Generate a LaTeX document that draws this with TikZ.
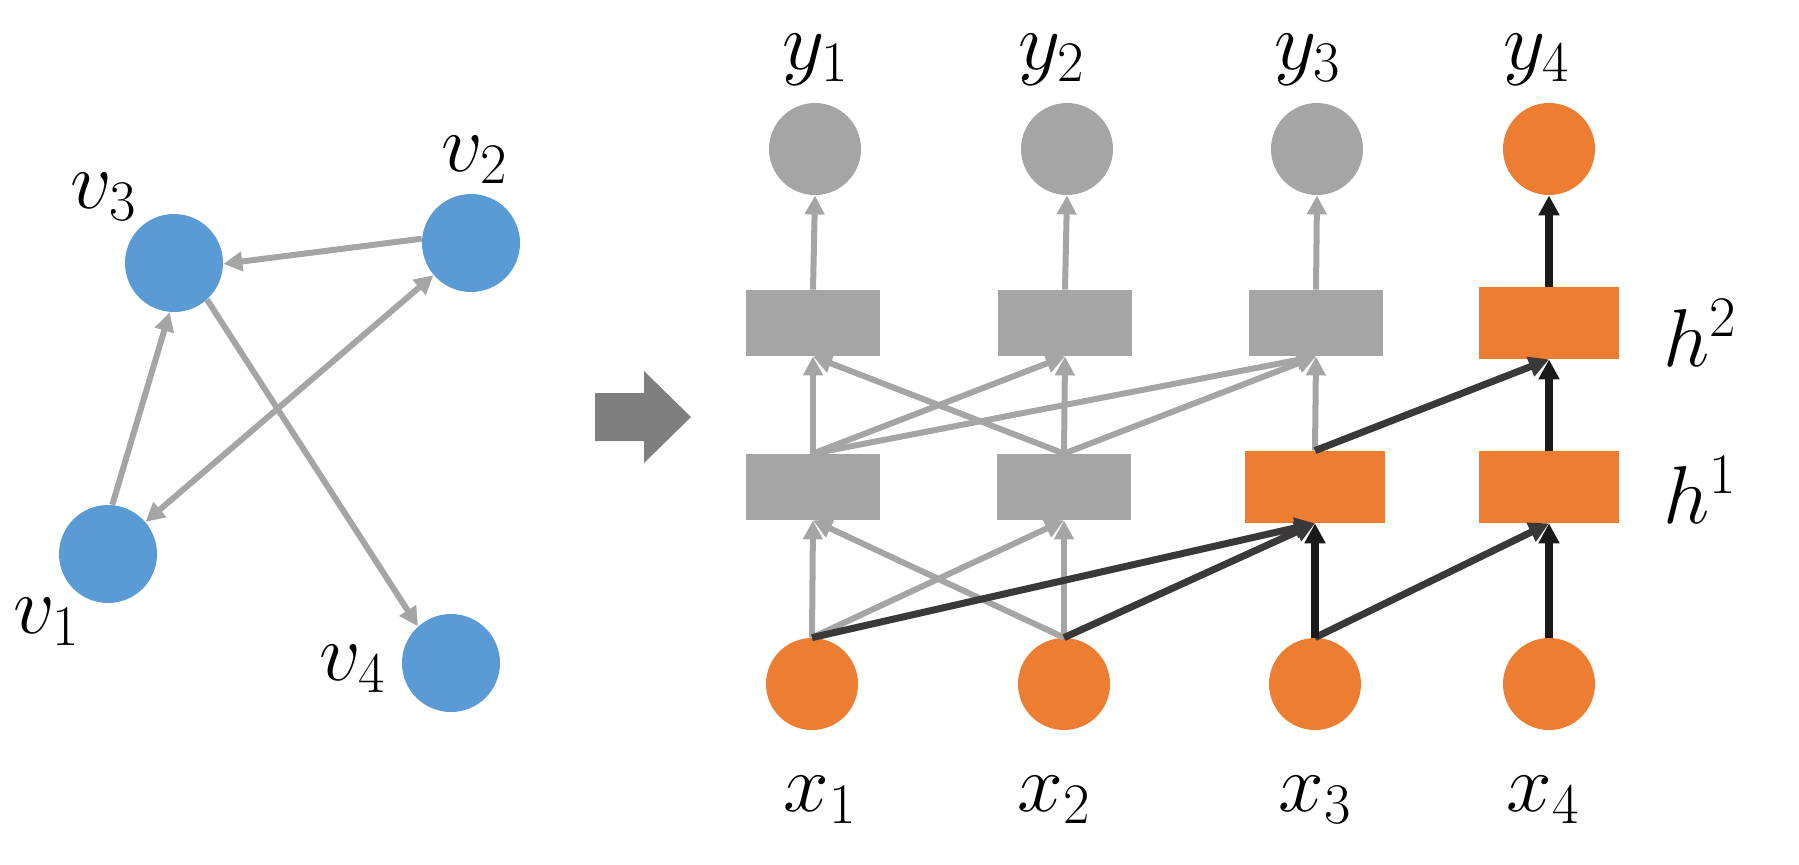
\RequirePackage{fix-cm}
\documentclass[tikz,border=0pt]{standalone}
\usetikzlibrary{arrows.meta}
\definecolor{vblue}{HTML}{5B9BD5}
\definecolor{orng}{HTML}{ED7D31}
\definecolor{gry}{HTML}{A5A5A5}
\definecolor{drk}{HTML}{3A3838}
\definecolor{blk}{HTML}{1A1A1A}
\definecolor{bigarr}{HTML}{7F7F7F}
\tikzset{
  gtip/.tip={Triangle[length=9.5pt,width=9.5pt]},
  dtip/.tip={Triangle[length=10pt,width=10pt]},
}
\begin{document}
\begin{tikzpicture}[x=0.5pt,y=-0.5pt,
  vnode/.style={circle,fill=vblue,minimum size=49pt,inner sep=0pt},
  onode/.style={circle,fill=orng,minimum size=46pt,inner sep=0pt},
  gnode/.style={circle,fill=gry,minimum size=46pt,inner sep=0pt},
  gbox/.style={rectangle,fill=gry,minimum width=67pt,minimum height=33pt,inner sep=0pt},
  obox/.style={rectangle,fill=orng,minimum width=70pt,minimum height=36pt,inner sep=0pt},
  lbl/.style={inner sep=0pt,font=\fontsize{41}{49}\selectfont},
  garr/.style={draw=gry,line width=3pt,-gtip},
  darr/.style={draw=drk,line width=3.5pt,-dtip},
  barr/.style={draw=blk,line width=4pt,-dtip},
]
\useasboundingbox (0,0) rectangle (1799,864);

% ---------- left graph ----------
\node[vnode] (v1) at (108,554) {};
\node[vnode] (v2) at (471,243) {};
\node[vnode] (v3) at (174,263) {};
\node[vnode] (v4) at (451,663) {};
\node[lbl] (lv1) at (47,622) {$v_1$};
\node[lbl] (lv2) at (475,160) {$v_2$};
\node[lbl] (lv3) at (104,197) {$v_3$};
\node[lbl] (lv4) at (353,669) {$v_4$};
\draw[garr] (v2.175) -- (v3.-1);
\draw[garr] (v1.85) -- (v3.265);
\draw[garr,gtip-gtip] (v1) -- (v2);
\draw[garr] (v3.-48) -- (v4.132);

% ---------- big arrow ----------
\fill[bigarr] (595,393) -- (644,393) -- (644,371) -- (691,417) -- (644,463)
  -- (644,441) -- (595,441) -- cycle;

% ---------- network ----------
\node[onode] (x1) at (812,684) {};
\node[onode] (x2) at (1064,684) {};
\node[onode] (x3) at (1315,684) {};
\node[onode] (x4) at (1549,684) {};
\node[gbox] (h11) at (813,487) {};
\node[gbox] (h12) at (1064,487) {};
\node[obox] (h13) at (1315,487) {};
\node[obox] (h14) at (1549,487) {};
\node[gbox] (h21) at (813,323) {};
\node[gbox] (h22) at (1065,323) {};
\node[gbox] (h23) at (1316,323) {};
\node[obox] (h24) at (1549,323) {};
\node[gnode] (y1) at (815,149) {};
\node[gnode] (y2) at (1067,149) {};
\node[gnode] (y3) at (1317,149) {};
\node[onode] (y4) at (1549,149) {};

\node[lbl] (ly1) at (816,60) {$y_1$};
\node[lbl] (ly2) at (1052,60) {$y_2$};
\node[lbl] (ly3) at (1308,60) {$y_3$};
\node[lbl] (ly4) at (1537,60) {$y_4$};
\node[lbl] (lx1) at (820,800) {$x_1$};
\node[lbl] (lx2) at (1054,800) {$x_2$};
\node[lbl] (lx3) at (1315,800) {$x_3$};
\node[lbl] (lx4) at (1543,800) {$x_4$};
\node[lbl] (lh2) at (1700,333) {$h^2$};
\node[lbl] (lh1) at (1700,490) {$h^1$};

% gray connections
\draw[garr] (x1.north) -- (h11.south);
\draw[garr] (x1.north) -- (h12.south);
\draw[garr] (x2.north) -- (h11.south);
\draw[garr] (x2.north) -- (h12.south);
\draw[garr] (h11.north) -- (h21.south);
\draw[garr] (h11.north) -- (h22.south);
\draw[garr] (h11.north) -- (h23.south);
\draw[garr] (h12.north) -- (h21.south);
\draw[garr] (h12.north) -- (h22.south);
\draw[garr] (h12.north) -- (h23.south);
\draw[garr] (h13.north) -- (h23.south);
\draw[garr] (h21.north) -- (y1.south);
\draw[garr] (h22.north) -- (y2.south);
\draw[garr] (h23.north) -- (y3.south);

% dark connections
\draw[darr] (x1.north) -- (h13.south);
\draw[darr] (x2.north) -- (h13.south);
\draw[darr] (x3.north) -- (h14.south);
\draw[darr] (h13.north) -- (h24.south);
\draw[barr] (x3.north) -- (h13.south);
\draw[barr] (x4.north) -- (h14.south);
\draw[barr] (h14.north) -- (h24.south);
\draw[barr] (h24.north) -- (y4.south);
\end{tikzpicture}
\end{document}
